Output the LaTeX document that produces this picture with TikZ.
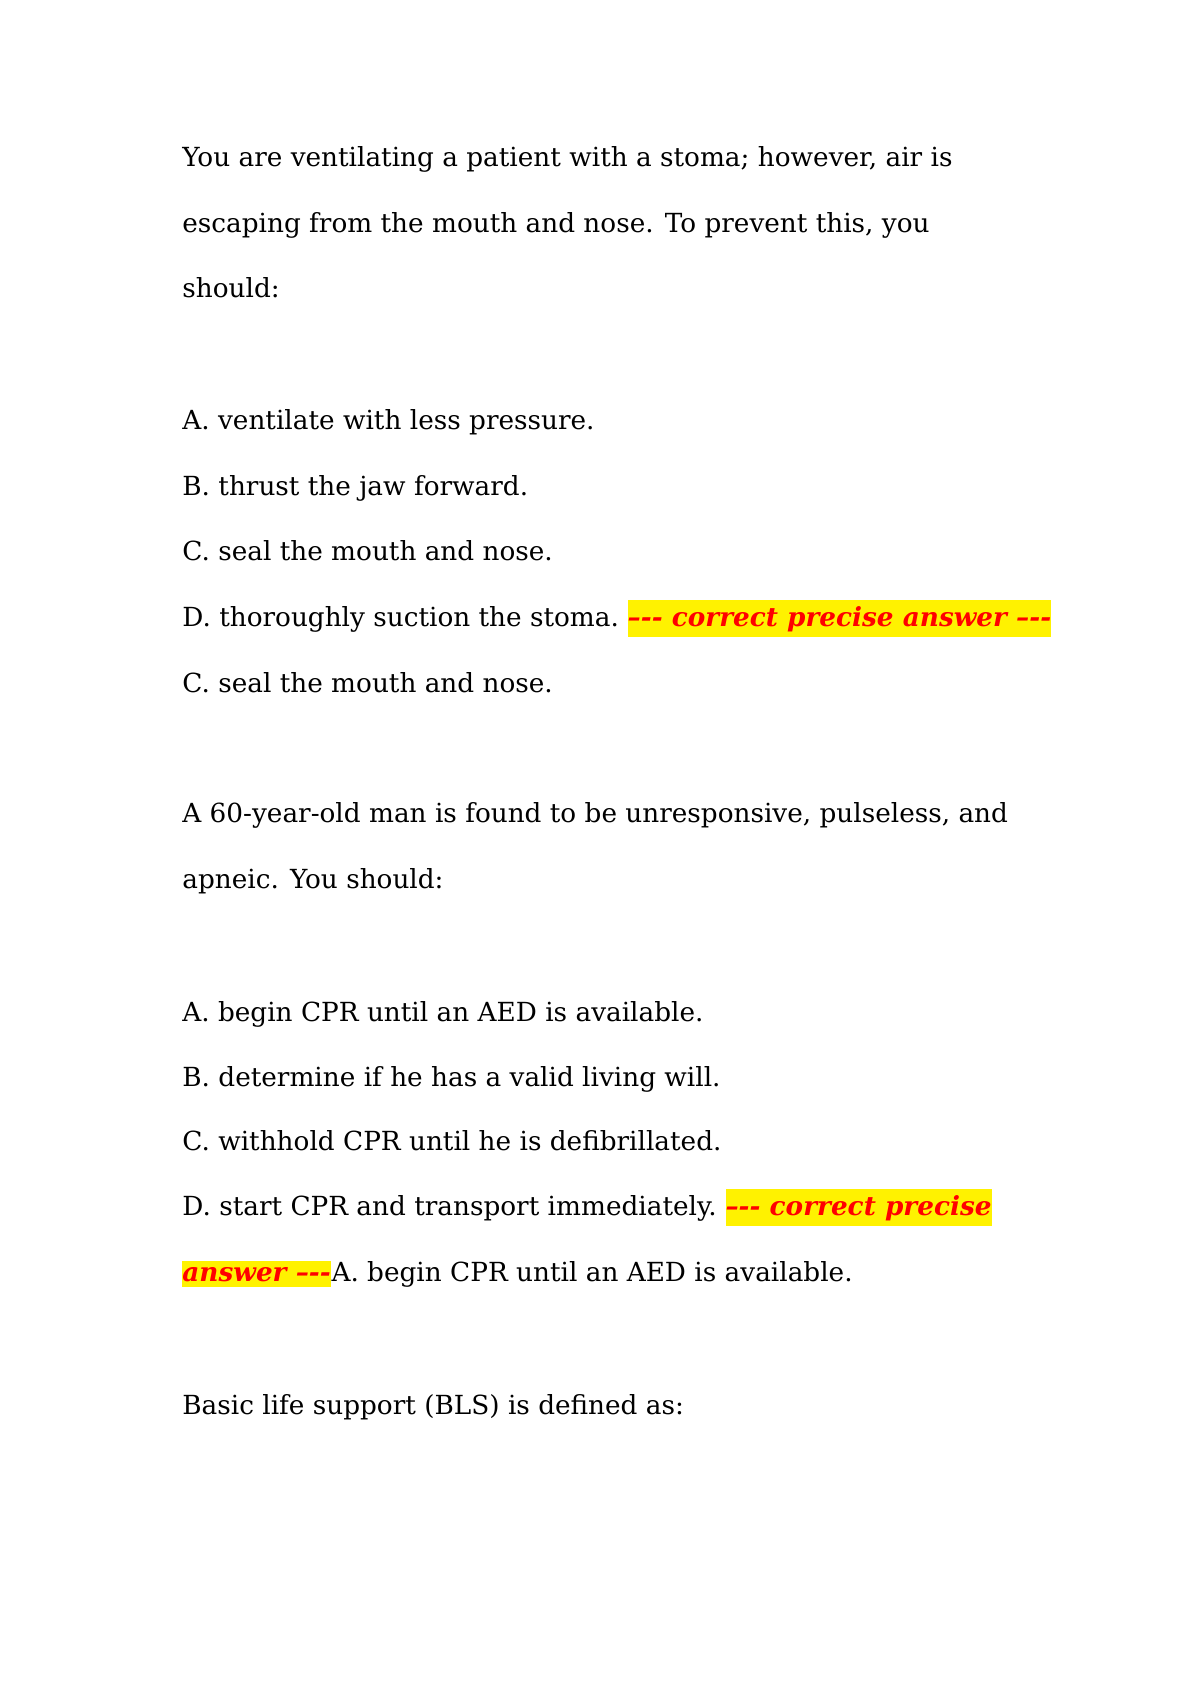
\documentclass[tikz,border=0pt]{standalone}
\usepackage{fontspec}
\setmainfont{DejaVu Serif}
\usetikzlibrary{positioning}
\tikzset{
  line/.style={anchor=base west, inner sep=0pt, font=\fontsize{13.2}{16}\selectfont},
  answer/.style={anchor=base west, inner xsep=0pt, inner ysep=3pt, fill=yellow, text=red,
    font=\fontsize{13.2}{16}\selectfont\bfseries\itshape}
}
\begin{document}
\begin{tikzpicture}[x=0.017633cm, y=-0.017633cm]
  \useasboundingbox (0,0) rectangle (1191,1684);
  % first question
  \node[line] (q1a) at (182,167) {You are ventilating a patient with a stoma; however, air is};
  \node[line] (q1b) at (182,233) {escaping from the mouth and nose. To prevent this, you};
  \node[line] (q1c) at (182,298) {should:};
  \node[line] (o1a) at (182,429) {A. ventilate with less pressure.};
  \node[line] (o1b) at (182,495) {B. thrust the jaw forward.};
  \node[line] (o1c) at (182,560) {C. seal the mouth and nose.};
  \node[line] (o1d) at (182,626) {D. thoroughly suction the stoma.};
  \node[answer] (m1) at ([xshift=4pt]o1d.base east) {--{}-{}- correct precise answer --{}-{}-};
  \node[line] (r1) at (182,692) {C. seal the mouth and nose.};
  % second question
  \node[line] (q2a) at (182,822) {A 60-year-old man is found to be unresponsive, pulseless, and};
  \node[line] (q2b) at (182,888) {apneic. You should:};
  \node[line] (o2a) at (182,1021) {A. begin CPR until an AED is available.};
  \node[line] (o2b) at (182,1086) {B. determine if he has a valid living will.};
  \node[line] (o2c) at (182,1150) {C. withhold CPR until he is defibrillated.};
  \node[line] (o2d) at (182,1215) {D. start CPR and transport immediately.};
  \node[answer] (m2) at ([xshift=4pt]o2d.base east) {--{}-{}- correct precise\ };
  \node[answer] (m3) at (182,1281) {answer --{}-{}-};
  \node[line] (r2) at (m3.base east) {A. begin CPR until an AED is available.};
  % third question
  \node[line] (q3a) at (182,1414) {Basic life support (BLS) is defined as:};
\end{tikzpicture}
\end{document}
